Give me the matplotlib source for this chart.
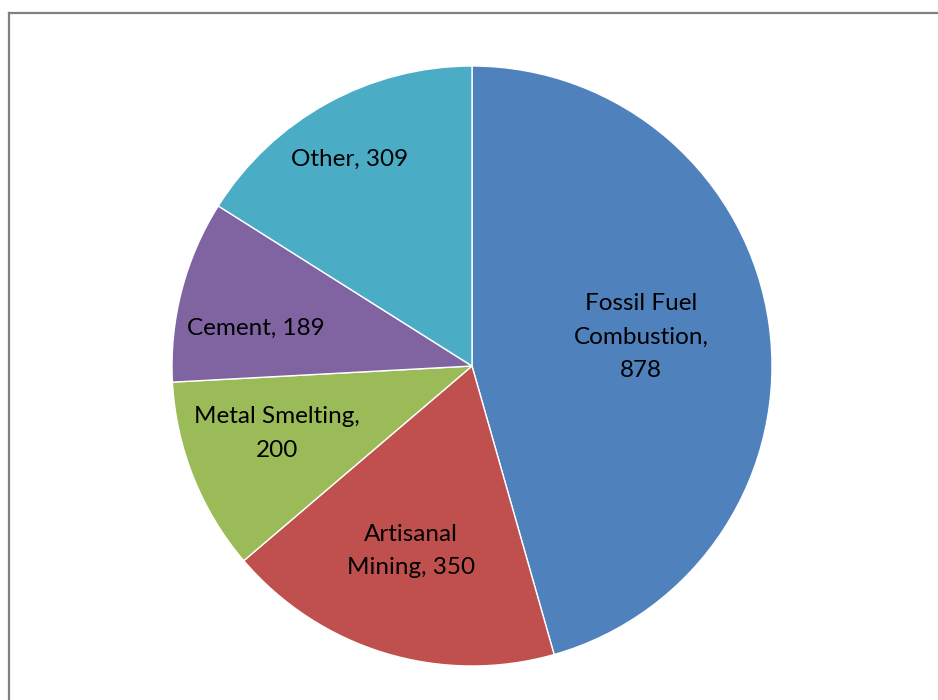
import numpy as np
import matplotlib
matplotlib.use("Agg")
import matplotlib.pyplot as plt
from matplotlib.lines import Line2D

# Mercury emission sources
categories = ["Fossil Fuel Combustion", "Artisanal Mining", "Metal Smelting", "Cement", "Other"]
values = [878, 350, 200, 189, 309]
colors = ["#4F81BD", "#C0504D", "#9BBB59", "#8064A2", "#4BACC6"]

# how each data label is wrapped
label_formats = ["Fossil Fuel\nCombustion,\n{}", "Artisanal\nMining, {}",
                 "Metal Smelting,\n{}", "Cement, {}", "Other, {}"]
# label centres, in units of the pie radius
label_xy = [(0.563, 0.096), (-0.203, -0.617), (-0.65, -0.225), (-0.72, 0.127), (-0.408, 0.689)]

W, H = 938, 700
fig = plt.figure(figsize=(W / 100, H / 100), dpi=100)
fig.patch.set_facecolor("white")

# pie area: 600 px square centred at (472, 366)
ax = fig.add_axes([172 / W, 34 / H, 600 / W, 600 / H])
wedges, _ = ax.pie(values, colors=colors, startangle=90, counterclock=False,
                   radius=1.0, wedgeprops=dict(edgecolor="white", linewidth=1.0))
ax.set_xlim(-1, 1)
ax.set_ylim(-1, 1)
ax.set_aspect("equal")
ax.axis("off")

for fmt, val, (lx, ly) in zip(label_formats, values, label_xy):
    ax.text(lx, ly, fmt.format(val), ha="center", va="center",
            fontsize=17.5, family="Lato", color="black", linespacing=1.72)

# chart-area border (top and left edges visible)
lw = 1.6
x0 = 9 / W
y0 = 1 - 12.5 / H
fig.add_artist(Line2D([x0, x0], [0, y0], transform=fig.transFigure, color="#808080", lw=lw))
fig.add_artist(Line2D([x0, 1], [y0, y0], transform=fig.transFigure, color="#808080", lw=lw))

fig.savefig("out.png", dpi=100)
